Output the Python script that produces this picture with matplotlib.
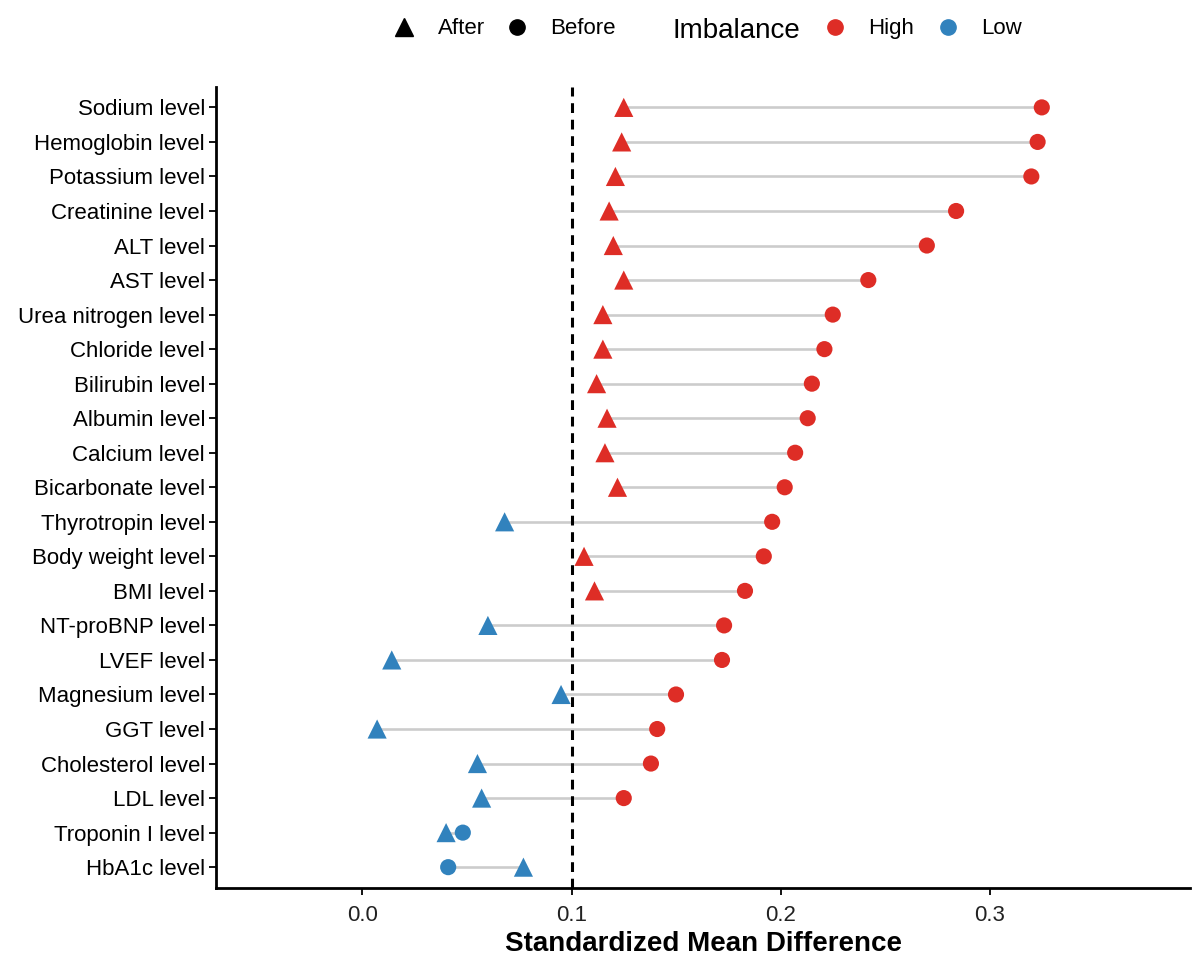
import matplotlib
matplotlib.use('Agg')
import matplotlib.pyplot as plt
from matplotlib.lines import Line2D

plt.rcParams['font.family'] = ['Liberation Sans', 'DejaVu Sans']

# variáveis, de cima para baixo
variaveis = ['Sodium level', 'Hemoglobin level', 'Potassium level', 'Creatinine level',
             'ALT level', 'AST level', 'Urea nitrogen level', 'Chloride level',
             'Bilirubin level', 'Albumin level', 'Calcium level', 'Bicarbonate level',
             'Thyrotropin level', 'Body weight level', 'BMI level', 'NT-proBNP level',
             'LVEF level', 'Magnesium level', 'GGT level', 'Cholesterol level',
             'LDL level', 'Troponin I level', 'HbA1c level']
smd_antes = [0.325, 0.323, 0.320, 0.284, 0.270, 0.242, 0.225, 0.221, 0.215, 0.213,
             0.207, 0.202, 0.196, 0.192, 0.183, 0.173, 0.172, 0.150, 0.141, 0.138,
             0.125, 0.048, 0.041]
smd_depois = [0.125, 0.124, 0.121, 0.118, 0.120, 0.125, 0.115, 0.115, 0.112, 0.117,
              0.116, 0.122, 0.068, 0.106, 0.111, 0.060, 0.014, 0.095, 0.007, 0.055,
              0.057, 0.040, 0.077]
limiar = 0.1
x_ticks = [0.0, 0.1, 0.2, 0.3]

cor_alta = '#DE2D26'
cor_baixa = '#3182BD'

def cor(v):
    return cor_alta if v > limiar else cor_baixa

n = len(variaveis)
ys = [n - i for i in range(n)]

fig = plt.figure(figsize=(12.01, 9.63), dpi=100)
ax = fig.add_axes([0.18, 0.078, 0.811, 0.832])

for y, a, d in zip(ys, smd_antes, smd_depois):
    ax.plot([a, d], [y, y], color='#CCCCCC', lw=1.9, zorder=1, solid_capstyle='butt')

ax.axvline(limiar, color='black', lw=2.2, ls=(0, (3.2, 2.2)), zorder=2)

ax.scatter(smd_antes, ys, marker='o', s=135, c=[cor(v) for v in smd_antes],
           linewidths=0, zorder=3)
ax.scatter(smd_depois, ys, marker='^', s=190, c=[cor(v) for v in smd_depois],
           linewidths=0, zorder=3)

ax.set_xlim(-0.07, 0.396)
ax.set_ylim(0.4, n + 0.6)
ax.set_yticks(ys)
ax.set_yticklabels(variaveis, fontsize=16, color='black')
ax.set_xticks(x_ticks)
ax.set_xticklabels([f'{t:.1f}' for t in x_ticks], fontsize=16, color='#222222')
ax.tick_params(axis='both', length=5, width=1.3, color='black')
ax.tick_params(axis='y', pad=3)
ax.tick_params(axis='x', pad=7)
ax.set_xlabel('Standardized Mean Difference', fontsize=20, fontweight='bold', labelpad=4)

for lado in ['top', 'right']:
    ax.spines[lado].set_visible(False)
for lado in ['left', 'bottom']:
    ax.spines[lado].set_linewidth(2.0)

# legendas no topo
h_forma = [Line2D([], [], marker='^', color='black', ls='', markersize=13),
           Line2D([], [], marker='o', color='black', ls='', markersize=11)]
fig.legend(h_forma, ['After', 'Before'], loc='center left', ncol=2,
           bbox_to_anchor=(0.309, 0.970), frameon=False, fontsize=16,
           handlelength=1.2, handletextpad=0.9, columnspacing=0.85)
fig.text(0.560, 0.968, 'Imbalance', fontsize=20, ha='left', va='center')
h_cor = [Line2D([], [], marker='o', color=cor_alta, ls='', markersize=11),
         Line2D([], [], marker='o', color=cor_baixa, ls='', markersize=11)]
fig.legend(h_cor, ['High', 'Low'], loc='center left', ncol=2,
           bbox_to_anchor=(0.6675, 0.970), frameon=False, fontsize=16,
           handlelength=1.2, handletextpad=0.9, columnspacing=0.9)

fig.savefig('out.png', dpi=100)
